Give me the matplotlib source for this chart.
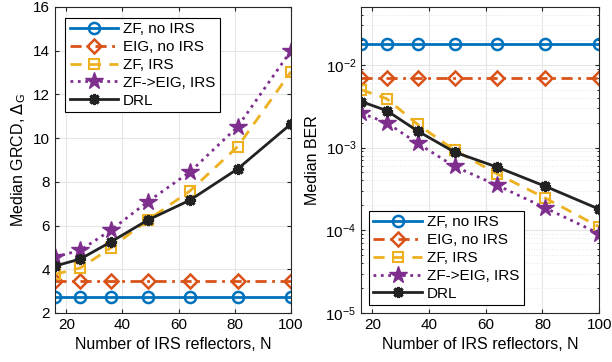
import matplotlib
matplotlib.use("Agg")
import matplotlib.pyplot as plt
from matplotlib.ticker import LogLocator, NullFormatter

plt.rcParams["font.family"] = ["Liberation Sans", "DejaVu Sans"]

# Number of IRS reflectors
N = [16, 25, 36, 49, 64, 81, 100]

# Median GRCD (left panel)
grcd_zf_noirs = [2.72, 2.72, 2.72, 2.72, 2.72, 2.72, 2.72]
grcd_eig_noirs = [3.45, 3.45, 3.45, 3.45, 3.45, 3.45, 3.45]
grcd_zf_irs = [3.77, 4.06, 4.99, 6.25, 7.58, 9.61, 13.04]
grcd_zfeig_irs = [4.56, 4.87, 5.80, 7.09, 8.45, 10.52, 14.0]
grcd_drl = [4.15, 4.47, 5.26, 6.25, 7.16, 8.59, 10.65]

# Median BER (right panel)
ber_zf_noirs = [0.0178] * 7
ber_eig_noirs = [0.0070] * 7
ber_zf_irs = [5.0e-3, 3.9e-3, 1.9e-3, 9.3e-4, 4.8e-4, 2.45e-4, 1.1e-4]
ber_zfeig_irs = [2.6e-3, 2.0e-3, 1.12e-3, 5.9e-4, 3.5e-4, 1.86e-4, 9.1e-5]
ber_drl = [3.6e-3, 2.8e-3, 1.58e-3, 8.8e-4, 5.8e-4, 3.4e-4, 1.8e-4]

labels = ["ZF, no IRS", "EIG, no IRS", "ZF, IRS", "ZF->EIG, IRS", "DRL"]
styles = [
    dict(color="#0072BD", ls="-", marker="o", ms=8, mfc="none", mew=1.8),
    dict(color="#D95319", ls=(0, (4, 2, 1, 2)), marker="D", ms=7, mfc="none", mew=1.8),
    dict(color="#EDB120", ls=(0, (4, 3)), marker="s", ms=7, mfc="none", mew=1.5),
    dict(color="#7E2F8E", ls=":", marker="*", ms=13, mfc="#7E2F8E", mew=1),
    dict(color="#222222", ls="-", marker=(8, 2, 0), ms=8, mew=2.2),
]

fig = plt.figure(figsize=(6.12, 3.62), dpi=100)
ax1 = fig.add_axes([0.0899, 0.1354, 0.3856, 0.8453])
ax2 = fig.add_axes([0.590, 0.1354, 0.389, 0.8453])

for ys, lab, st in zip([grcd_zf_noirs, grcd_eig_noirs, grcd_zf_irs, grcd_zfeig_irs, grcd_drl],
                       labels, styles):
    ax1.plot(N, ys, lw=2, label=lab, **st)
for ys, lab, st in zip([ber_zf_noirs, ber_eig_noirs, ber_zf_irs, ber_zfeig_irs, ber_drl],
                       labels, styles):
    ax2.plot(N, ys, lw=2, label=lab, **st)

ax1.set_xlim(16, 100)
ax1.set_ylim(2, 16)
ax1.set_xticks([20, 40, 60, 80, 100])
ax1.set_yticks(range(2, 17, 2))
ax1.set_xlabel("Number of IRS reflectors, N", fontsize=11.5)
ax1.set_ylabel(r"Median GRCD, $\Delta_{\rm G}$", fontsize=11.5)
ax1.grid(True, color="#e6e6e6", lw=0.8)

ax2.set_yscale("log")
ax2.set_xlim(16, 100)
ax2.set_ylim(1e-5, 5e-2)
ax2.set_xticks([20, 40, 60, 80, 100])
ax2.yaxis.set_major_locator(LogLocator(base=10, numticks=10))
ax2.yaxis.set_minor_locator(LogLocator(base=10, subs=range(2, 10), numticks=20))
ax2.yaxis.set_minor_formatter(NullFormatter())
ax2.set_xlabel("Number of IRS reflectors, N", fontsize=11.5)
ax2.set_ylabel("Median BER", fontsize=11.5)
ax2.grid(True, which="major", color="#e6e6e6", lw=0.8)
ax2.grid(True, which="minor", axis="y", color="#e6e6e6", lw=0.7, ls=":")

for ax in (ax1, ax2):
    ax.set_axisbelow(True)
    ax.tick_params(labelsize=11, direction="in", length=3, color="#262626",
                   top=True, right=True)
    ax.tick_params(which="minor", direction="in", length=1.5, right=True)
    for s in ax.spines.values():
        s.set_color("#262626")
        s.set_linewidth(0.8)

leg_kw = dict(fontsize=11, fancybox=False, edgecolor="black", framealpha=1,
              handlelength=3.2, borderpad=0.3, labelspacing=0.25, handletextpad=0.3)
l1 = ax1.legend(loc="upper left", bbox_to_anchor=(0.01, 0.99), **leg_kw)
l2 = ax2.legend(loc="lower left", bbox_to_anchor=(0.0, 0.0), **leg_kw)
for l in (l1, l2):
    l.get_frame().set_linewidth(0.8)

fig.savefig("out.png", dpi=100)
